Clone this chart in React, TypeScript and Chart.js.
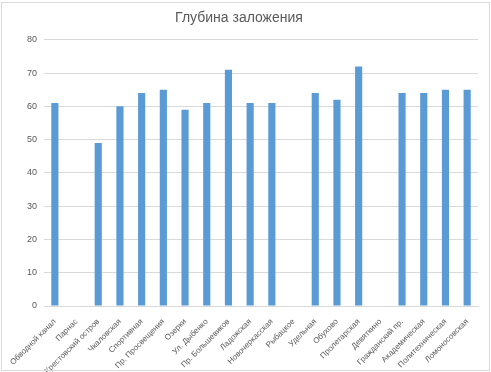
import React, { useEffect, useRef } from "react";
import { Chart, registerables } from "chart.js";

Chart.register(...registerables);

const stations = [
  "Обводной канал",
  "Парнас",
  "Крестовский остров",
  "Чкаловская",
  "Спортивная",
  "Пр. Просвещения",
  "Озерки",
  "Ул. Дыбенко",
  "Пр. Большевиков",
  "Ладожская",
  "Новочеркасская",
  "Рыбацкое",
  "Удельная",
  "Обухово",
  "Пролетарская",
  "Девяткино",
  "Гражданский пр.",
  "Академическая",
  "Политехническая",
  "Ломоносовская",
];

const depths: (number | null)[] = [61, null, 49, 60, 64, 65, 59, 61, 71, 61, 61, null, 64, 62, 72, null, 64, 64, 65, 65];

const yTicks = [0, 10, 20, 30, 40, 50, 60, 70, 80];

const chartTitle = "Глубина заложения";

export default function App() {
  const canvasRef = useRef<HTMLCanvasElement | null>(null);

  useEffect(() => {
    document.body.style.margin = "0";
    const canvas = canvasRef.current;
    if (!canvas) return;
    const font = "'Liberation Sans', Arial, sans-serif";
    const chart = new Chart(canvas, {
      type: "bar",
      data: {
        labels: stations,
        datasets: [
          {
            data: depths,
            backgroundColor: "#5b9bd5",
            borderWidth: 0,
            categoryPercentage: 0.33,
            barPercentage: 1,
          },
        ],
      },
      options: {
        animation: false,
        responsive: false,
        maintainAspectRatio: false,
        layout: { padding: { left: 0, right: 13, top: 0, bottom: 0 } },
        plugins: {
          legend: { display: false },
          tooltip: { enabled: false },
          title: {
            display: true,
            text: chartTitle,
            color: "#595959",
            font: { family: font, size: 14, weight: "normal" },
            padding: { top: 10, bottom: 13 },
          },
        },
        scales: {
          x: {
            grid: { display: false },
            border: { display: true, color: "#d9d9d9" },
            ticks: {
              color: "#595959",
              font: { family: font, size: 8 },
              minRotation: 45,
              maxRotation: 45,
              autoSkip: false,
              padding: 3,
            },
            afterFit: (scale: any) => {
              scale.height = 66;
            },
          },
          y: {
            min: 0,
            max: 80,
            afterBuildTicks: (scale: any) => {
              scale.ticks = yTicks.map((v) => ({ value: v }));
            },
            grid: { color: "#d9d9d9", drawTicks: false },
            border: { display: false },
            ticks: {
              color: "#595959",
              font: { family: font, size: 9 },
              padding: 7,
            },
            afterFit: (scale: any) => {
              scale.width = 44;
            },
          },
        },
      },
    });
    return () => chart.destroy();
  }, []);

  return (
    <div style={{ position: "relative", width: 491, height: 372, background: "#ffffff" }}>
      <canvas ref={canvasRef} width={491} height={372} style={{ display: "block" }} />
      <div
        style={{
          position: "absolute",
          left: 1,
          top: 2,
          width: 487,
          height: 367,
          border: "1px solid #d9d9d9",
          pointerEvents: "none",
        }}
      />
    </div>
  );
}
